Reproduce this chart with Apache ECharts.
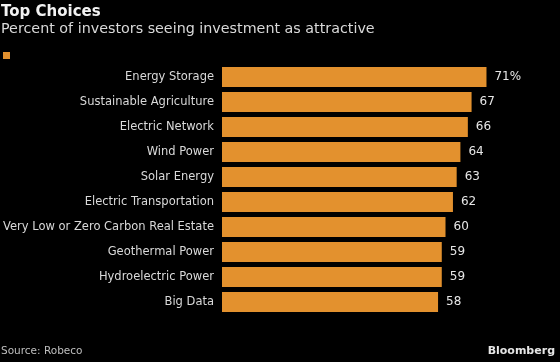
<!DOCTYPE html>
<html><head><meta charset="utf-8">
<script src="https://cdn.jsdelivr.net/npm/echarts@6/dist/echarts.min.js"></script>
<style>html,body{margin:0;padding:0;background:#000}#c{width:560px;height:362px}</style>
</head><body><div id="c"></div>
<script>
var categories = ["Energy Storage","Sustainable Agriculture","Electric Network","Wind Power","Solar Energy","Electric Transportation","Very Low or Zero Carbon Real Estate","Geothermal Power","Hydroelectric Power","Big Data"];
var values = [71,67,66,64,63,62,60,59,59,58];
var titleText = "Top Choices";
var subtitleText = "Percent of investors seeing investment as attractive";
var sourceText = "Source: Robeco";
var brandText = "Bloomberg";
var FONT = "DejaVu Sans";
var chart = echarts.init(document.getElementById('c'));
chart.setOption({
  backgroundColor: '#000',
  animation: false,
  title: [
    {text: titleText, left: 1, top: 5, padding: 0, textStyle: {color: '#f2f2f2', fontSize: 15, fontWeight: 'bold', fontFamily: FONT}},
    {text: subtitleText, left: 1, top: 22, padding: 0, textStyle: {color: '#d9d9d9', fontSize: 14.3, fontWeight: 'normal', fontFamily: FONT}},
    {text: sourceText, left: 1, top: 346, padding: 0, textStyle: {color: '#bfbfbf', fontSize: 10.5, fontWeight: 'normal', fontFamily: FONT}},
    {text: brandText, right: 5, top: 346, padding: 0, textStyle: {color: '#e6e6e6', fontSize: 11, fontWeight: 'bold', fontFamily: FONT}}
  ],
  graphic: [{type: 'rect', shape: {x: 3, y: 52, width: 7, height: 7}, style: {fill: '#e3912e'}}],
  grid: {left: 222, right: 40, top: 64.5, bottom: 47.5, containLabel: false, outerBoundsMode: 'none'},
  xAxis: {type: 'value', min: 0, max: 80, show: false},
  yAxis: {type: 'category', data: categories, inverse: true,
    axisLine: {show: false}, axisTick: {show: false},
    axisLabel: {color: '#d9d9d9', fontSize: 11.5, fontFamily: FONT, margin: 8}},
  series: [{type: 'bar', data: values, barCategoryGap: '20%',
    itemStyle: {color: '#e3912e'},
    label: {show: true, position: 'right', distance: 8, color: '#e6e6e6', fontSize: 12, fontFamily: FONT,
      formatter: function(p){ return p.dataIndex === 0 ? p.value + '%' : String(p.value); }}
  }]
});
</script></body></html>
